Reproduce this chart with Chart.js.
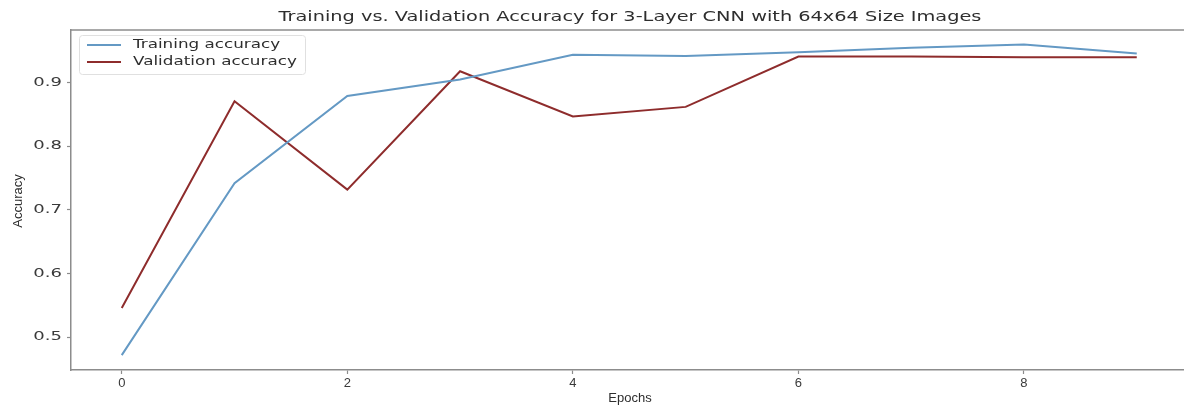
<!DOCTYPE html>
<html>
<head>
<meta charset="utf-8">
<script src="https://cdn.jsdelivr.net/npm/chart.js@4/dist/chart.umd.min.js"></script>
<style>
  html, body { margin: 0; padding: 0; background: #fff; }
  #wrap { width: 1184px; height: 407px; }
</style>
</head>
<body>
<div id="wrap"><canvas id="c" width="1184" height="407"></canvas></div>
<script>
// Per-epoch accuracy for the 3-layer CNN (64x64 inputs)
const epochs = [0, 1, 2, 3, 4, 5, 6, 7, 8, 9];
const trainingAccuracy = [0.472, 0.742, 0.879, 0.905, 0.944, 0.942, 0.948, 0.955, 0.960, 0.946];
const validationAccuracy = [0.546, 0.871, 0.732, 0.918, 0.847, 0.862, 0.941, 0.941, 0.940, 0.940];
const xTickValues = [0, 2, 4, 6, 8];
const yTickValues = [0.5, 0.6, 0.7, 0.8, 0.9];

const chartTitle = 'Training vs. Validation Accuracy for 3-Layer CNN with 64x64 Size Images';
const xTitle = 'Epochs';
const yTitle = 'Accuracy';

const spineColor = '#8c8c8c';
const textColor = '#2e2e2e';

const toPoints = (ys) => ys.map((y, i) => ({ x: epochs[i], y }));

// Draw text horizontally stretched (wide rendering) around an anchor point
function wideText(ctx, text, x, y, font, stretch, align) {
  ctx.save();
  ctx.font = font;
  ctx.textBaseline = 'middle';
  ctx.textAlign = 'left';
  const w = ctx.measureText(text).width * stretch;
  let left = x;
  if (align === 'center') left = x - w / 2;
  else if (align === 'right') left = x - w;
  ctx.translate(left, y);
  ctx.scale(stretch, 1);
  ctx.fillText(text, 0, 0);
  ctx.restore();
}

// Title, axis titles, tick labels, top spine and the framed legend
const decorations = {
  id: 'decorations',
  afterDraw(chart) {
    const { ctx, chartArea: a, scales } = chart;
    ctx.save();
    ctx.fillStyle = textColor;

    // top spine
    ctx.strokeStyle = spineColor;
    ctx.lineWidth = 1.5;
    ctx.beginPath();
    ctx.moveTo(a.left, a.top);
    ctx.lineTo(a.right + 2, a.top);
    ctx.stroke();

    // title
    wideText(ctx, chartTitle, 630, 17, '14px "DejaVu Sans"', 1.38, 'center');

    // tick labels
    ctx.fillStyle = '#3a3a3a';
    yTickValues.forEach(v => {
      wideText(ctx, v.toFixed(1), 62, scales.y.getPixelForValue(v), '12px "DejaVu Sans"', 1.5, 'right');
    });
    xTickValues.forEach(v => {
      wideText(ctx, String(v), scales.x.getPixelForValue(v), 383, '13px "Liberation Sans"', 1.0, 'center');
    });

    // axis titles
    ctx.fillStyle = textColor;
    wideText(ctx, xTitle, 630, 398, '13px "Liberation Sans"', 1.0, 'center');
    ctx.save();
    ctx.translate(18, 201);
    ctx.rotate(-Math.PI / 2);
    ctx.font = '13px "Liberation Sans Narrow", "Liberation Sans"';
    ctx.textAlign = 'center';
    ctx.textBaseline = 'middle';
    ctx.fillText(yTitle, 0, 0);
    ctx.restore();

    // legend
    const bx = 79, by = 35, bw = 226, bh = 39;
    ctx.fillStyle = 'rgba(255,255,255,0.85)';
    ctx.strokeStyle = '#e0e0e0';
    ctx.lineWidth = 1;
    ctx.beginPath();
    ctx.roundRect(bx + 0.5, by + 0.5, bw, bh, 3);
    ctx.fill();
    ctx.stroke();
    chart.data.datasets.forEach((ds, i) => {
      const y = by + 10 + i * 17;
      ctx.strokeStyle = ds.borderColor;
      ctx.lineWidth = 2;
      ctx.beginPath();
      ctx.moveTo(bx + 8, y);
      ctx.lineTo(bx + 42, y);
      ctx.stroke();
      ctx.fillStyle = textColor;
      wideText(ctx, ds.label, bx + 54, y, '13px "DejaVu Sans"', 1.29, 'left');
    });
    ctx.restore();
  }
};

new Chart(document.getElementById('c'), {
  type: 'line',
  data: {
    datasets: [
      {
        label: 'Training accuracy',
        data: toPoints(trainingAccuracy),
        borderColor: '#6499c4',
        borderWidth: 2,
        pointRadius: 0,
        tension: 0,
        fill: false
      },
      {
        label: 'Validation accuracy',
        data: toPoints(validationAccuracy),
        borderColor: '#8e2c2c',
        borderWidth: 2,
        pointRadius: 0,
        tension: 0,
        fill: false
      }
    ]
  },
  options: {
    responsive: false,
    devicePixelRatio: 1,
    animation: false,
    layout: { padding: { left: 0, right: 1, top: 30, bottom: 0 } },
    plugins: {
      legend: { display: false },
      title: { display: false },
      tooltip: { enabled: false }
    },
    scales: {
      x: {
        type: 'linear',
        min: -0.45,
        max: 9.41,
        afterFit(scale) { scale.height = 37; },
        afterBuildTicks(scale) { scale.ticks = xTickValues.map(v => ({ value: v })); },
        grid: { drawOnChartArea: false, drawTicks: true, tickLength: 4, color: spineColor, tickWidth: 1.2 },
        border: { display: true, color: spineColor, width: 1.5 },
        ticks: { display: false }
      },
      y: {
        type: 'linear',
        min: 0.4486,
        max: 0.9828,
        afterFit(scale) { scale.width = 71; },
        afterBuildTicks(scale) { scale.ticks = yTickValues.map(v => ({ value: v })); },
        grid: { drawOnChartArea: false, drawTicks: true, tickLength: 4, color: spineColor, tickWidth: 1.2 },
        border: { display: true, color: spineColor, width: 1.5 },
        ticks: { display: false }
      }
    }
  },
  plugins: [decorations]
});
</script>
</body>
</html>
